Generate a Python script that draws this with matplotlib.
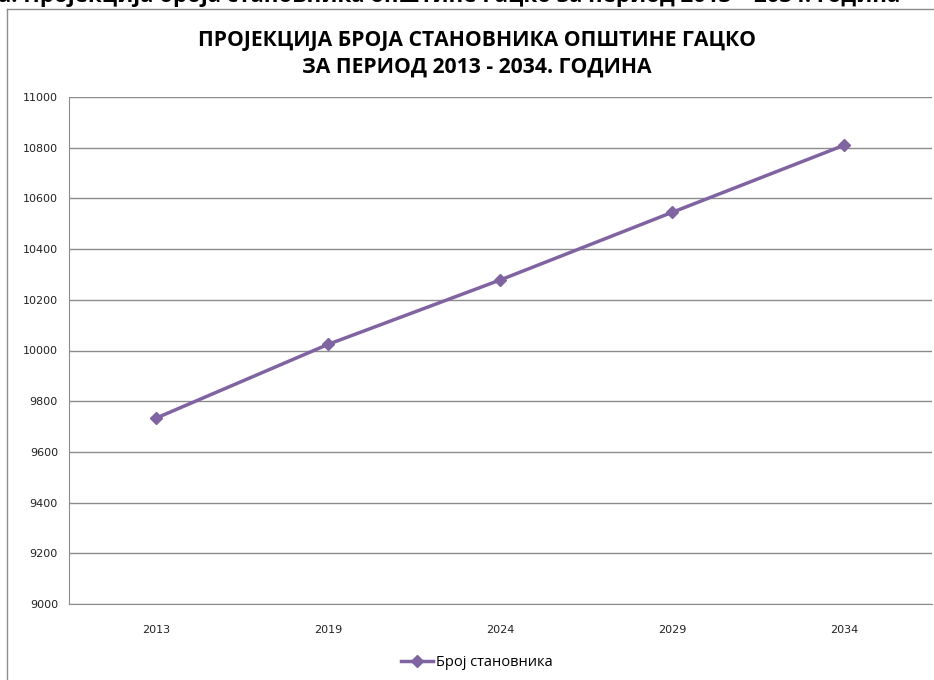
import matplotlib.pyplot as plt
from matplotlib.lines import Line2D

# data
years = ["2013", "2019", "2024", "2029", "2034"]
population = [9733, 10024, 10278, 10545, 10810]
y_ticks = list(range(9000, 11001, 200))

caption = "а. Пројекција броја становника општине Гацко за период 2013 – 2034. година"
title = "ПРОЈЕКЦИЈА БРОЈА СТАНОВНИКА ОПШТИНЕ ГАЦКО\nЗА ПЕРИОД 2013 - 2034. ГОДИНА"
series_name = "Број становника"

purple = "#8064A2"
grid_col = "#8c8c8c"

W, H = 934, 680
fig = plt.figure(figsize=(W / 100, H / 100), dpi=100)

# outer chart frame (only left and top edges visible in the screenshot)
fig.add_artist(Line2D([7 / W, 7 / W], [0, 1 - 9 / H], color=grid_col, lw=1))
fig.add_artist(Line2D([7 / W, 1], [1 - 9 / H, 1 - 9 / H], color=grid_col, lw=1))

# cut-off caption at the very top of the screenshot
fig.text(-0.002, 1 - 2 / H, caption, ha="left", va="baseline",
         fontsize=16, family="Open Sans", fontweight="bold")

ax = fig.add_axes([69 / W, 1 - 604 / H, (932 - 69) / W, (604 - 97) / H])
x = range(len(years))
ax.plot(x, population, color=purple, lw=2.5, marker="D", markersize=6,
        label=series_name)

ax.set_xlim(-0.505, 4.51)
ax.set_ylim(9000, 11000)
ax.set_yticks(y_ticks)
ax.set_yticklabels([str(v) for v in y_ticks], fontsize=8, family="DejaVu Sans")
ax.set_xticks(list(x))
ax.set_xticklabels(years, fontsize=8, family="DejaVu Sans")
ax.tick_params(length=0, pad=8, axis="y", colors="#222222")
ax.tick_params(length=0, pad=15, axis="x", colors="#222222")
ax.yaxis.grid(True, color=grid_col, lw=1)
ax.set_axisbelow(True)
for side in ["top", "right"]:
    ax.spines[side].set_visible(False)
for side in ["left", "bottom"]:
    ax.spines[side].set_color(grid_col)

fig.text(477 / W, 1 - 54 / H, title, ha="center", va="center",
         fontsize=15.2, family="Open Sans", fontweight="bold",
         linespacing=1.35)

fig.legend(loc="center", bbox_to_anchor=(477 / W, 1 - 663 / H), frameon=False,
           prop={"family": "Open Sans", "size": 10.5}, handlelength=2.2,
           handletextpad=0.2)

fig.savefig("out.png", dpi=100)
